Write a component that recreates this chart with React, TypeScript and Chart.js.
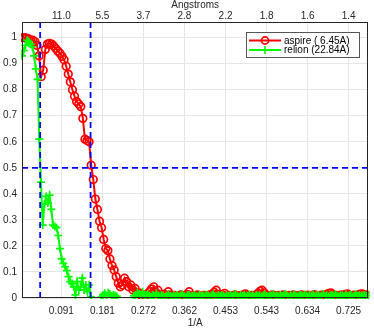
import React, { useEffect, useRef } from "react";
import { Chart, registerables } from "chart.js";

Chart.register(...registerables);

// ---- data ----
const seriesNames = ["aspire ( 6.45A)", "relion (22.84A)"];
const resolutionsA = [6.45, 22.84];
const fscThreshold = 0.5;
const bottomTitle = "1/A";
const topTitle = "Angstroms";

const aspireStep = 0.0046; // shell spacing (1/A)
const relionStep = 0.0038;

const aspireY = [
  1.0, 1.0, 0.998, 0.995, 0.99, 0.99, 0.985, 0.97, 0.93, 0.85,
  0.875, 0.955, 0.975, 0.978, 0.975, 0.968, 0.958, 0.948, 0.94, 0.928,
  0.915, 0.89, 0.86, 0.83, 0.8, 0.775, 0.755, 0.745, 0.735, 0.69,
  0.61, 0.605, 0.6, 0.51, 0.455, 0.38, 0.34, 0.295, 0.27, 0.225,
  0.19, 0.182, 0.15, 0.125, 0.108, 0.082, 0.057, 0.043, 0.05, 0.076,
  0.063, 0.043, 0.05, 0.031, 0.037, 0.018, 0.02, 0.01, 0.012, 0.008,
  0.015, 0.025, 0.035, 0.043, 0.022, 0.03, 0.012, 0.008, 0.015, 0.01,
  0.024, 0.012, 0.006, 0.01, 0.004, 0.008, 0.012, 0.006, 0.01, 0.014,
  0.024, 0.01, 0.005, 0.008, 0.012, 0.004, 0.007, 0.01, 0.005, 0.009,
  0.012, 0.015, 0.022, 0.03, 0.014, 0.008, 0.012, 0.018, 0.006, 0.01,
  0.008, 0.005, 0.012, 0.009, 0.006, 0.01, 0.012, 0.016, 0.008, 0.005,
  0.01, 0.007, 0.012, 0.018, 0.026, 0.03, 0.02, 0.01, 0.006, 0.008,
  0.012, 0.005, 0.009, 0.01, 0.006, 0.012, 0.008, 0.004, 0.01, 0.007,
  0.012, 0.009, 0.005, 0.01, 0.012, 0.006, 0.008, 0.011, 0.007, 0.01,
  0.013, 0.006, 0.01, 0.008, 0.012, 0.007, 0.014, 0.018, 0.02, 0.012,
  0.008, 0.01, 0.006, 0.012, 0.009, 0.014, 0.016, 0.01, 0.006, 0.011,
  0.008, 0.012, 0.015, 0.016, 0.009, 0.012, 0.008,
];

const relionY = [
  0.93, 0.95, 0.97, 0.99, 0.985, 0.975, 0.965, 0.93, 0.88, 0.84,
  0.61, 0.445, 0.28, 0.36, 0.39, 0.365, 0.395, 0.34, 0.28, 0.275,
  0.27, 0.24, 0.19, 0.15, 0.133, 0.12, 0.105, 0.082, 0.063, 0.056,
  0.043, 0.012, 0.063, 0.031, 0.043, 0.076, 0.031, 0.05, 0.024, 0.05,
  0.005, -0.03, -0.04, -0.035, -0.03, -0.025, 0.003, 0.012, 0.018, 0.01,
  0.02, 0.015, 0.008, 0.012, 0.01, 0.006, -0.035, -0.03, -0.04, -0.03,
  -0.03, -0.04, -0.03, -0.035, -0.02, 0.008, 0.012, 0.02, 0.015, 0.01,
  0.024, 0.012, 0.008, 0.015, 0.01, 0.005, 0.012, 0.008, 0.018, 0.01,
  0.006, 0.012, 0.009, 0.004, 0.01, 0.014, 0.008, 0.005, 0.011, 0.007,
  0.012, 0.006, 0.009, 0.015, 0.008, 0.004, 0.01, 0.012, 0.006, 0.009,
  0.011, 0.007, 0.005, 0.012, 0.008, 0.01, 0.006, 0.013, 0.009, 0.005,
  0.01, 0.014, 0.008, 0.006, 0.011, 0.007, 0.012, 0.009, 0.005, 0.01,
  0.008, 0.012, 0.006, 0.01, 0.014, 0.009, 0.005, 0.011, 0.008, 0.012,
  0.006, 0.009, 0.013, 0.007, 0.01, 0.005, 0.012, 0.008, 0.011, 0.006,
  0.01, 0.013, 0.008, 0.005, 0.011, 0.009, 0.014, 0.007, 0.01, 0.006,
  0.012, 0.008, 0.01, 0.015, 0.009, 0.005, 0.011, 0.007, 0.013, 0.009,
  0.006, 0.01, 0.012, 0.008, 0.014, 0.01, 0.006, 0.011, 0.009, 0.013,
  0.007, 0.01, 0.012, 0.006, 0.009, 0.015, 0.008, 0.011, 0.005, 0.01,
  0.012, 0.008, 0.014, 0.009, 0.006, 0.011, 0.01, 0.007, 0.013, 0.008,
  0.01, 0.012, 0.006, 0.009, 0.014, 0.008, 0.011, 0.007, 0.01, 0.012,
  0.008, 0.01,
];

const xMin = 0.0037;
const xMax = 0.768;
const xTickValues = [0.0906, 0.1812, 0.2717, 0.3623, 0.4529, 0.5435, 0.634, 0.7246];
const xTickLabels = ["0.091", "0.181", "0.272", "0.362", "0.453", "0.543", "0.634", "0.725"];
const angstromLabels = ["11.0", "5.5", "3.7", "2.8", "2.2", "1.8", "1.6", "1.4"];
const yTickValues = [0, 0.1, 0.2, 0.3, 0.4, 0.5, 0.6, 0.7, 0.8, 0.9, 1];
const yTickLabels = ["0", "0.1", "0.2", "0.3", "0.4", "0.5", "0.6", "0.7", "0.8", "0.9", "1"];

const RED = "#ff0000";
const GREEN = "#00ff00";
const BLUE = "#0000ff";
const AXIS = "#262626";
const FONT = "'Liberation Sans', Arial, sans-serif";

const overlayPlugin = {
  id: "overlay",
  afterDatasetsDraw(chart: any) {
    const { ctx, chartArea: a, scales } = chart;
    // dashed threshold lines
    ctx.save();
    ctx.beginPath();
    ctx.rect(a.left, a.top, a.right - a.left, a.bottom - a.top);
    ctx.clip();
    ctx.strokeStyle = BLUE;
    ctx.lineWidth = 1.8;
    ctx.setLineDash([6, 4]);
    resolutionsA.forEach((r) => {
      const px = scales.x.getPixelForValue(1 / r);
      ctx.beginPath();
      ctx.moveTo(px, a.top);
      ctx.lineTo(px, a.bottom);
      ctx.stroke();
    });
    const py = scales.y.getPixelForValue(fscThreshold);
    ctx.beginPath();
    ctx.moveTo(a.left, py);
    ctx.lineTo(a.right, py);
    ctx.stroke();
    ctx.restore();

    // axes box
    ctx.save();
    ctx.strokeStyle = AXIS;
    ctx.lineWidth = 1;
    ctx.strokeRect(Math.round(a.left) + 0.5, Math.round(a.top) + 0.5, Math.round(a.right - a.left) - 1, Math.round(a.bottom - a.top) - 1);
    ctx.restore();

    // axis titles
    ctx.save();
    ctx.fillStyle = AXIS;
    ctx.font = `10px ${FONT}`;
    ctx.textAlign = "center";
    ctx.textBaseline = "middle";
    const cx = (a.left + a.right) / 2;
    ctx.fillText(topTitle, cx, 5.5);
    ctx.fillText(bottomTitle, cx, 323);
    ctx.restore();

    // legend
    const lw = 114;
    const lh = 26;
    const lx = Math.round(a.right) - 8 - lw;
    const ly = Math.round(a.top) + 10;
    ctx.save();
    ctx.fillStyle = "#ffffff";
    ctx.fillRect(lx, ly, lw, lh);
    ctx.strokeStyle = "#555555";
    ctx.lineWidth = 1;
    ctx.strokeRect(lx + 0.5, ly + 0.5, lw - 1, lh - 1);
    const colors = [RED, GREEN];
    seriesNames.forEach((name, i) => {
      const cy = ly + 8.5 + i * 9.5;
      const x0 = lx + 3;
      const x1 = lx + 35;
      const mx = (x0 + x1) / 2;
      ctx.strokeStyle = colors[i];
      ctx.lineWidth = 2;
      ctx.beginPath();
      ctx.moveTo(x0, cy);
      ctx.lineTo(x1, cy);
      ctx.stroke();
      ctx.lineWidth = 1.6;
      ctx.beginPath();
      if (i === 0) {
        ctx.arc(mx, cy, 3.6, 0, Math.PI * 2);
      } else {
        ctx.moveTo(mx - 4, cy);
        ctx.lineTo(mx + 4, cy);
        ctx.moveTo(mx, cy - 4);
        ctx.lineTo(mx, cy + 4);
      }
      ctx.stroke();
      ctx.fillStyle = "#000000";
      ctx.font = `10px ${FONT}`;
      ctx.textBaseline = "middle";
      ctx.textAlign = "left";
      ctx.fillText(name, lx + 38, cy + 0.5);
    });
    ctx.restore();
  },
};

export default function App() {
  const canvasRef = useRef<HTMLCanvasElement | null>(null);

  useEffect(() => {
    if (!canvasRef.current) return;
    const aspireData = aspireY.map((y, i) => ({ x: (i + 1) * aspireStep, y }));
    const relionData = relionY.map((y, i) => ({ x: (i + 1) * relionStep, y }));
    const tickFont = { family: FONT, size: 10 };

    const chart = new Chart(canvasRef.current, {
      type: "line",
      data: {
        datasets: [
          {
            label: seriesNames[0],
            data: aspireData,
            order: 1,
            borderColor: RED,
            borderWidth: 2,
            pointStyle: "circle",
            pointRadius: 3.8,
            pointBorderWidth: 1.7,
            pointBorderColor: RED,
            pointBackgroundColor: "rgba(255,255,255,0)",
            clip: { left: 1, right: 1, top: 1, bottom: 1 },
          },
          {
            label: seriesNames[1],
            data: relionData,
            order: 0,
            borderColor: GREEN,
            borderWidth: 2,
            pointStyle: "cross",
            pointRadius: 4,
            pointBorderWidth: 1.7,
            pointBorderColor: GREEN,
            pointBackgroundColor: GREEN,
            clip: { left: 1, right: 1, top: 1, bottom: 1 },
          },
        ],
      } as any,
      options: {
        animation: false,
        responsive: true,
        maintainAspectRatio: false,
        layout: { padding: { left: 0, right: 3, top: 0, bottom: 0 } },
        plugins: { legend: { display: false }, tooltip: { enabled: false } },
        elements: { line: { tension: 0 } },
        scales: {
          x: {
            type: "linear",
            position: "bottom",
            min: xMin,
            max: xMax,
            afterBuildTicks: (s: any) => {
              s.ticks = xTickValues.map((v) => ({ value: v }));
            },
            afterFit: (s: any) => {
              s.height = 31;
            },
            ticks: {
              autoSkip: false,
              maxRotation: 0,
              padding: 7,
              color: AXIS,
              font: tickFont,
              callback: (_v: any, i: number) => xTickLabels[i],
            },
            grid: { color: "#e6e6e6", lineWidth: 1, drawTicks: false },
            border: { display: false },
            title: { display: false },
          },
          x2: {
            type: "linear",
            position: "top",
            min: xMin,
            max: xMax,
            afterBuildTicks: (s: any) => {
              s.ticks = xTickValues.map((v) => ({ value: v }));
            },
            afterFit: (s: any) => {
              s.height = 22;
            },
            ticks: {
              autoSkip: false,
              maxRotation: 0,
              padding: 0,
              color: AXIS,
              font: tickFont,
              callback: (_v: any, i: number) => angstromLabels[i],
            },
            grid: { display: false, drawTicks: false },
            border: { display: false },
            title: { display: false },
          },
          y: {
            type: "linear",
            min: 0,
            max: 1.06,
            afterBuildTicks: (s: any) => {
              s.ticks = yTickValues.map((v) => ({ value: v }));
            },
            afterFit: (s: any) => {
              s.width = 22;
            },
            ticks: {
              autoSkip: false,
              padding: 5,
              color: AXIS,
              font: tickFont,
              callback: (_v: any, i: number) => yTickLabels[i],
            },
            grid: { color: "#e6e6e6", lineWidth: 1, drawTicks: false },
            border: { display: false },
          },
        },
      } as any,
      plugins: [overlayPlugin],
    });
    return () => chart.destroy();
  }, []);

  return (
    <div style={{ position: "absolute", left: 0, top: 0, width: 374, height: 329, background: "#fff" }}>
      <canvas ref={canvasRef} />
    </div>
  );
}
